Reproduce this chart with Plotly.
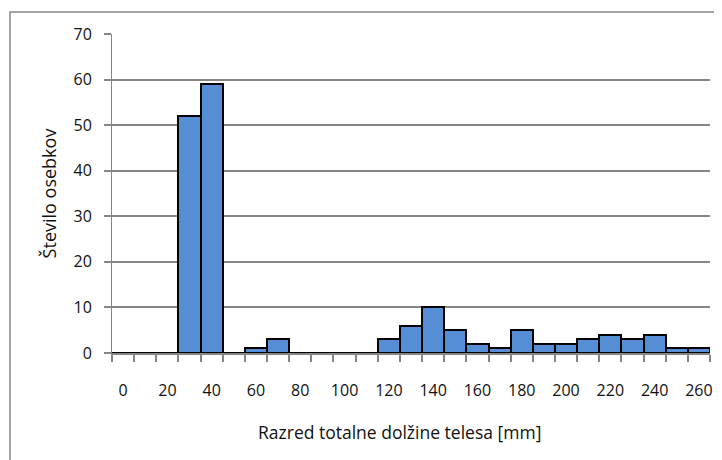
import plotly.graph_objects as go

categories = [0, 10, 20, 30, 40, 50, 60, 70, 80, 90, 100, 110, 120, 130,
              140, 150, 160, 170, 180, 190, 200, 210, 220, 230, 240, 250, 260]
counts = [0, 0, 0, 52, 59, 0, 1, 3, 0, 0, 0, 0, 3, 6,
          10, 5, 2, 1, 5, 2, 2, 3, 4, 3, 4, 1, 1]
tick_values = [0, 20, 40, 60, 80, 100, 120, 140, 160, 180, 200, 220, 240, 260]
tick_labels = [str(v) for v in tick_values]
y_ticks = [0, 10, 20, 30, 40, 50, 60, 70]

GRAY = "#868686"
FONT = "Open Sans"

fig = go.Figure()
fig.add_trace(go.Bar(
    x=categories, y=counts,
    marker=dict(color="#558ED5", line=dict(color="black", width=2)),
    width=10,
))

# page body has an 8px default margin, so the figure is sized/offset to compensate
fig.update_layout(
    width=714, height=452,
    margin=dict(l=104, r=12, t=26, b=107, autoexpand=False),
    paper_bgcolor="white", plot_bgcolor="white",
    bargap=0, showlegend=False,
    font=dict(family=FONT, size=16, color="#111"),
    shapes=[dict(type="rect", xref="paper", yref="paper",
                 x0=-0.1706, x1=1.2, y0=-0.6, y1=1.069,
                 line=dict(color=GRAY, width=1.5), layer="below")],
    annotations=[dict(text="Razred totalne dolžine telesa [mm]", xref="paper", yref="paper",
                      x=0.4816, y=-0.2476, xanchor="center", yanchor="middle",
                      showarrow=False, font=dict(size=17.5))],
)

fig.update_xaxes(
    automargin=False,
    range=[-5, 265], tickmode="array", tickvals=tick_values, ticktext=tick_labels,
    ticks="", showgrid=False, zeroline=False,
    showline=True, linecolor=GRAY, linewidth=2,
    ticklabelstandoff=22,
    minor=dict(tick0=-5, dtick=10, ticks="outside", ticklen=7, tickcolor=GRAY, tickwidth=1.5, showgrid=False),
)
fig.update_yaxes(
    automargin=False,
    range=[0, 70], tickmode="array", tickvals=y_ticks,
    ticks="outside", ticklen=7, tickcolor=GRAY, tickwidth=1.5,
    showgrid=True, gridcolor=GRAY, gridwidth=1.5, zeroline=False,
    showline=True, linecolor=GRAY, linewidth=1,
    ticklabelstandoff=9,
    title=dict(text="Število osebkov", standoff=12, font=dict(size=18)),
)

fig.write_html("out.html")
